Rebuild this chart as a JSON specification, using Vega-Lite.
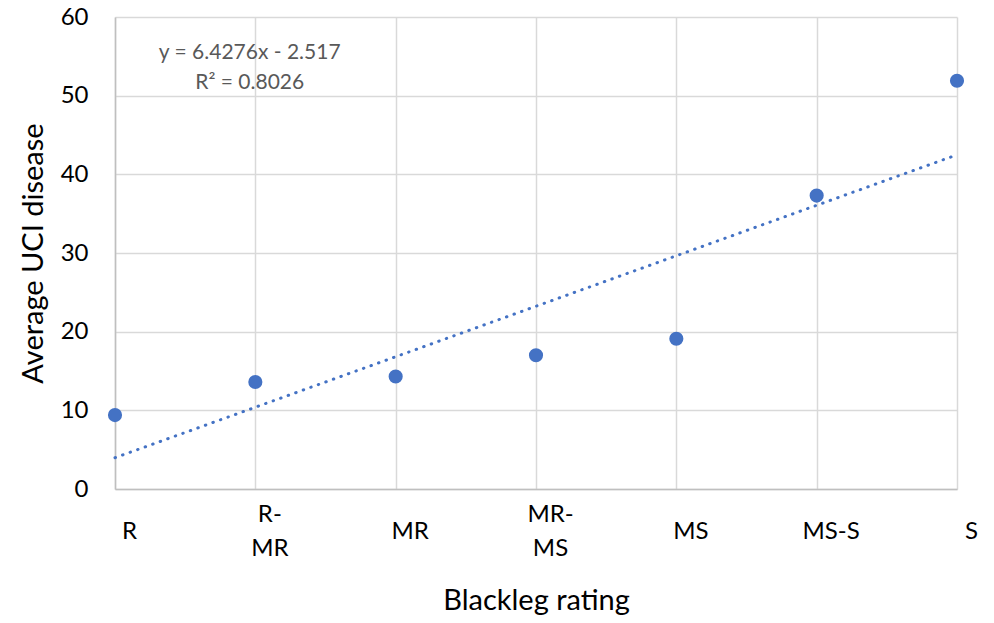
{
  "$schema": "https://vega.github.io/schema/vega-lite/v6.json",
  "autosize": {"type": "none"},
  "width": 842,
  "height": 472,
  "padding": {"left": 115, "top": 17, "right": 37, "bottom": 134},
  "background": "white",
  "config": {
    "view": {"stroke": null},
    "font": "Lato",
    "axis": {"labelFont": "Lato", "titleFont": "Lato", "labelColor": "#000000", "titleColor": "#000000", "titleFontWeight": "normal"}
  },
  "datasets": {
    "points": [
      {"rating": "R", "idx": 1, "uci": 9.4},
      {"rating": "R-MR", "idx": 2, "uci": 13.6},
      {"rating": "MR", "idx": 3, "uci": 14.3},
      {"rating": "MR-MS", "idx": 4, "uci": 17.0},
      {"rating": "MS", "idx": 5, "uci": 19.1},
      {"rating": "MS-S", "idx": 6, "uci": 37.3},
      {"rating": "S", "idx": 7, "uci": 51.9}
    ],
    "equation": [
      {"idx": 1.96, "uci": 55.4, "text": "y = 6.4276x - 2.517"},
      {"idx": 1.96, "uci": 51.6, "text": "R² = 0.8026"}
    ]
  },
  "layer": [
    {
      "data": {"name": "points"},
      "mark": {"type": "point", "filled": true, "opacity": 1, "size": 200, "color": "#4472C4"},
      "encoding": {
        "x": {
          "field": "idx", "type": "quantitative",
          "scale": {"domain": [1, 7], "nice": false, "zero": false},
          "axis": {
            "values": [1, 2, 3, 4, 5, 6, 7],
            "title": "Blackleg rating",
            "titleFontSize": 29,
            "titlePadding": 26,
            "labelFontSize": 24,
            "labelExpr": "[['\u200b','R'],['R-','\u200b','MR'],['\u200b','MR'],['MR-','\u200b','MS'],['\u200b','MS'],['\u200b','MS-S'],['\u200b','S']][datum.value-1]",
            "labelBaseline": "middle",
            "labelLineHeight": 17,
            "labelPadding": 25,
            "labelOffset": 14,
            "labelFlush": false,
            "labelOverlap": false,
            "ticks": false,
            "grid": true,
            "gridColor": "#d9d9d9",
            "gridWidth": 1.5,
            "domain": true,
            "domainColor": "#bfbfbf",
            "domainWidth": 1.5
          }
        },
        "y": {
          "field": "uci", "type": "quantitative",
          "scale": {"domain": [0, 60], "nice": false},
          "axis": {
            "values": [0, 10, 20, 30, 40, 50, 60],
            "title": "Average UCI disease",
            "titleFontSize": 29,
            "titlePadding": 12,
            "labelFontSize": 24,
            "labelPadding": 27,
            "ticks": false,
            "grid": true,
            "gridColor": "#d9d9d9",
            "gridWidth": 1.5,
            "domain": true,
            "domainColor": "#bfbfbf",
            "domainWidth": 1.5
          }
        }
      }
    },
    {
      "data": {"name": "points"},
      "transform": [{"regression": "uci", "on": "idx", "extent": [1, 7]}],
      "mark": {"type": "line", "color": "#4472C4", "strokeWidth": 3, "strokeCap": "round", "strokeDash": [0.5, 7.5]},
      "encoding": {
        "x": {"field": "idx", "type": "quantitative"},
        "y": {"field": "uci", "type": "quantitative"}
      }
    },
    {
      "data": {"name": "equation"},
      "mark": {"type": "text", "fontSize": 21, "color": "#595959", "font": "Lato", "align": "center", "baseline": "middle"},
      "encoding": {
        "x": {"field": "idx", "type": "quantitative"},
        "y": {"field": "uci", "type": "quantitative"},
        "text": {"field": "text"}
      }
    }
  ]
}
